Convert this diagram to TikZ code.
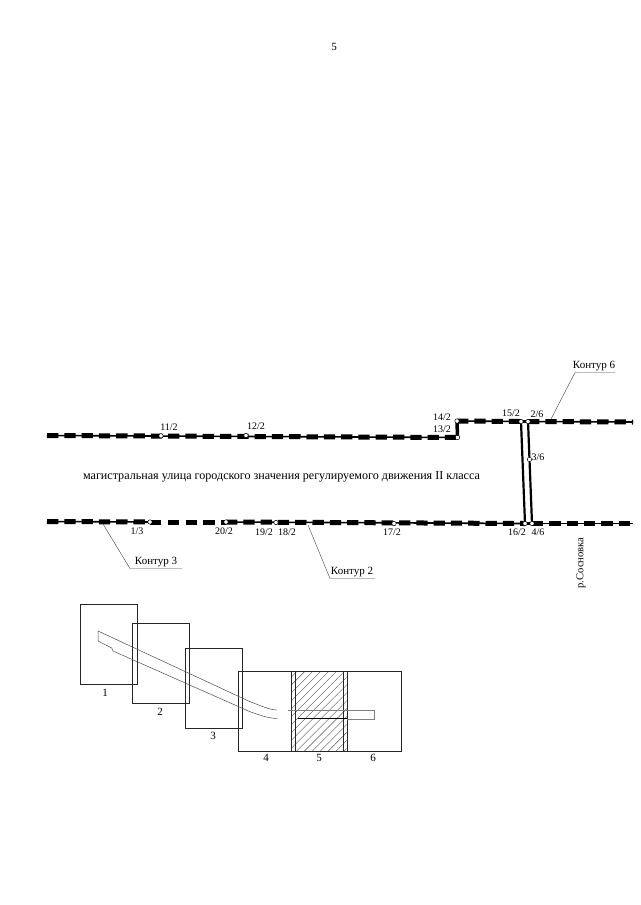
\documentclass[tikz,border=0pt]{standalone}
\usepackage{fontspec}
\setmainfont{Liberation Serif}
\usetikzlibrary{patterns.meta,backgrounds}
\tikzset{
  pt/.style={circle,draw=black,fill=white,line width=0.5pt,inner sep=0pt,minimum size=4.4pt},
  lbl/.style={inner sep=0pt,font=\fontsize{10}{12}\selectfont},
  biglbl/.style={inner sep=0pt,font=\fontsize{11}{13}\selectfont},
  road/.style={line width=1.6pt,preaction={draw,line width=5pt,dash pattern=on 11.3pt off 6pt}},
  gapline/.style={line width=5pt,dash pattern=on 11.3pt off 6.5pt},
  bridge/.style={line width=2.2pt},
  leader/.style={line width=0.4pt,black!75},
  sheet/.style={line width=1pt,black!85},
  axis/.style={line width=0.5pt,black!70}
}
\begin{document}
\begin{tikzpicture}[x=1pt,y=-1pt]
      \useasboundingbox (0,0) rectangle (640,905);
      \node[biglbl] (Page) at (334,47) {5};

      % upper line
      \coordinate (TopL) at (47,435.5);
      \coordinate (TopR) at (633,422);
      \node[pt] (Pt112) at (161,435.8) {};
      \node[pt] (Pt122) at (246,435.5) {};
      \node[pt] (Pt132) at (457.5,437.5) {};
      \node[pt] (Pt142) at (457,421) {};
      \node[pt] (Pt152) at (521,421.5) {};
      \node[pt] (Pt26) at (528,421.5) {};
      \node[pt] (Pt36) at (529.5,459.5) {};

      % lower line
      \coordinate (LowL) at (47,521.5);
      \coordinate (LowR) at (633,523.5);
      \node[pt] (Pt13) at (150,522) {};
      \node[pt] (Pt202) at (226,522) {};
      \node[pt] (Pt192) at (276,522.5) {};
      \node[pt] (Pt172) at (394,523.5) {};
      \node[pt] (Pt162) at (525,523.5) {};
      \node[pt] (Pt46) at (532,523.5) {};

      \begin{scope}[on background layer]
      \draw[road] (TopL) -- (Pt132.center);
      \draw[bridge,line width=3.5pt] (Pt132.center) -- (Pt142.center);
      \draw[road] (Pt142.center) -- (Pt152.center);
      \draw[bridge] (Pt152.center) -- (Pt26.center);
      \draw[road] (Pt26.center) -- (TopR);
      \draw[road] (LowL) -- (Pt13.center);
      \draw[gapline] (Pt13.center) -- (Pt202.center);
      \draw[road] (Pt202.center) -- (Pt162.center);
      \draw[bridge] (Pt162.center) -- (Pt46.center);
      \draw[road] (Pt46.center) -- (LowR);
      \draw[bridge] (Pt152) -- (Pt162);
      \draw[bridge] (Pt26) -- (Pt36) -- (Pt46);
      \end{scope}

      \node[lbl] (Lbl112) at (169,427) {11/2};
      \node[lbl] (Lbl122) at (256,426) {12/2};
      \node[lbl] (Lbl142) at (442,417) {14/2};
      \node[lbl] (Lbl132) at (442,429) {13/2};
      \node[lbl] (Lbl152) at (511,413.5) {15/2};
      \node[lbl] (Lbl26) at (537,414.5) {2/6};
      \node[lbl] (Lbl36) at (538,457.5) {3/6};
      \node[lbl] (Lbl13) at (137,531.5) {1/3};
      \node[lbl] (Lbl202) at (224,531.5) {20/2};
      \node[lbl] (Lbl192) at (264,532) {19/2};
      \node[lbl] (Lbl182) at (287,532) {18/2};
      \node[lbl] (Lbl172) at (392,532.5) {17/2};
      \node[lbl] (Lbl162) at (517,532) {16/2};
      \node[lbl] (Lbl46) at (538,532) {4/6};

      \node[inner sep=0pt,font=\fontsize{12.1}{14}\selectfont] (Street) at (281.5,477) {магистральная улица городского значения регулируемого движения II класса};
      \node[lbl,rotate=90,font=\fontsize{10.6}{12}\selectfont] (River) at (581,563) {р.Сосновка};

      % contour callouts
      \node[biglbl] (Kont3) at (156,562) {Контур 3};
      \node[biglbl] (Kont2) at (352,572) {Контур 2};
      \node[biglbl] (Kont6) at (594,366) {Контур 6};
      \coordinate (Kont3a) at (103,524);
      \coordinate (Kont3b) at (130,568.5);
      \coordinate (Kont3c) at (182,568.5);
      \coordinate (Kont2a) at (308,525);
      \coordinate (Kont2b) at (330,578.5);
      \coordinate (Kont2c) at (375,578.5);
      \coordinate (Kont6a) at (551,419);
      \coordinate (Kont6b) at (575,372.5);
      \coordinate (Kont6c) at (615,372.5);
      \draw[leader] (Kont3a) -- (Kont3b) -- (Kont3c);
      \draw[leader] (Kont2a) -- (Kont2b) -- (Kont2c);
      \draw[leader] (Kont6a) -- (Kont6b) -- (Kont6c);

      % key plan
      \fill[pattern={Lines[angle=45,distance=5.6pt,line width=0.4pt]},pattern color=black!70] (291,671) rectangle (347,751);
      \node[draw,sheet,inner sep=0pt,minimum width=57pt,minimum height=80pt] (Sheet1) at (108.5,644) {};
      \node[draw,sheet,inner sep=0pt,minimum width=57pt,minimum height=80pt] (Sheet2) at (161,663) {};
      \node[draw,sheet,inner sep=0pt,minimum width=57pt,minimum height=80pt] (Sheet3) at (213.5,688) {};
      \node[draw,sheet,inner sep=0pt,minimum width=57pt,minimum height=80pt] (Sheet4) at (266.5,711) {};
      \node[draw,sheet,inner sep=0pt,minimum width=56pt,minimum height=80pt] (Sheet5) at (319,711) {};
      \node[draw,sheet,inner sep=0pt,minimum width=58pt,minimum height=80pt] (Sheet6) at (372,711) {};
      \node[biglbl] (Num1) at (105,693) {1};
      \node[biglbl] (Num2) at (160,712) {2};
      \node[biglbl] (Num3) at (213,736) {3};
      \node[biglbl] (Num4) at (266,758) {4};
      \node[biglbl] (Num5) at (319,758) {5};
      \node[biglbl] (Num6) at (373,758) {6};

      \draw[axis] (277,710) .. controls (268,709.5) and (262,706) .. (250,701.7) -- (98,631) -- (98,641)
                  -- (111.7,648) -- (113,651) -- (250,711.7) .. controls (262,716) and (268,718) .. (277,718.5);
      \draw[axis,black!50] (288,710.5) -- (374,710.5) -- (374,719) -- (347,719);
      \draw[axis,black] (298,718.7) -- (347,718.7);
\end{tikzpicture}
\end{document}
